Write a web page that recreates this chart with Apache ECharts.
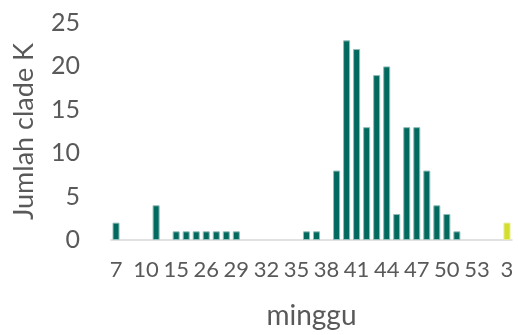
<!DOCTYPE html>
<html>
<head>
<meta charset="utf-8">
<script src="https://cdn.jsdelivr.net/npm/echarts@6/dist/echarts.min.js"></script>
<style>html,body{margin:0;padding:0;background:#fff}#c{width:518px;height:335px}</style>
</head>
<body>
<div id="c"></div>
<script>
var weeks = ['7','8','9','10','11','12','15','16','17','26','27','28','29','30','31','32','33','34','35','36','37','38','39','40','41','42','43','44','45','46','47','48','49','50','51','52','53','1','2','3'];
var counts = [2,0,0,0,4,0,1,1,1,1,1,1,1,0,0,0,0,0,0,1,1,0,8,23,22,13,19,20,3,13,13,8,4,3,1,0,0,0,0,2];
var highlightIndex = 39;
var yTicks = [0,5,10,15,20,25];

var font = 'Lato, "Open Sans", sans-serif';
var chart = echarts.init(document.getElementById('c'));
var data = counts.map(function(v, i){
  if (v === 0) return null;
  if (i === highlightIndex) {
    return {value: v, itemStyle: {color: '#D4DE2C', borderColor: '#E6EC8C'}};
  }
  return v;
});
chart.setOption({
  animation: false,
  grid: {left: 111, right: 6, top: 23, bottom: 90},
  xAxis: {
    type: 'category',
    data: weeks,
    name: 'minggu',
    nameLocation: 'middle',
    nameGap: 62,
    nameTextStyle: {color: '#595959', fontSize: 28, fontFamily: font},
    axisLine: {lineStyle: {color: '#D9D9D9', width: 1.5}},
    axisTick: {show: false},
    axisLabel: {interval: 2, color: '#595959', fontSize: 22, fontFamily: font, margin: 19}
  },
  yAxis: {
    type: 'value',
    min: yTicks[0], max: yTicks[yTicks.length-1], interval: 5,
    name: 'Jumlah clade K',
    nameLocation: 'middle',
    nameGap: 73,
    nameTextStyle: {color: '#595959', fontSize: 27, fontFamily: font},
    axisLine: {show: false},
    axisTick: {show: false},
    splitLine: {show: false},
    axisLabel: {color: '#595959', fontSize: 25, fontFamily: font, margin: 31}
  },
  series: [{
    type: 'bar',
    data: data,
    barCategoryGap: '30%',
    itemStyle: {color: '#02695F', borderColor: '#8FBDB8', borderWidth: 1}
  }]
});
</script>
</body>
</html>
